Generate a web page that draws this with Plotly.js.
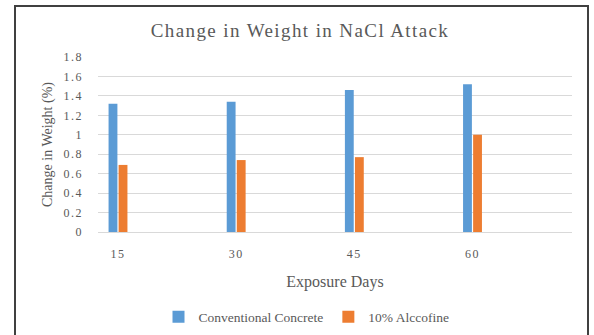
<!DOCTYPE html>
<html>
<head>
<meta charset="utf-8">
<script src="https://cdn.plot.ly/plotly-3.0.1.min.js"></script>
<style>
  html, body { margin: 0; padding: 0; background: #fff; }
  #chart { width: 594px; height: 335px; }
  #chart .xtick text, #chart .ytick text {
    letter-spacing: 1.5px;
    font-family: "Liberation Serif", "Times New Roman", serif !important;
  }
  #chart .gtitle { letter-spacing: 1.4px; }
</style>
</head>
<body>
<div id="chart"></div>
<script>
// Exposure period (days) and percentage change in weight after NaCl attack
const exposureDays = [15, 30, 45, 60];
const conventionalConcrete = [1.32, 1.34, 1.46, 1.52];
const alccofine10 = [0.69, 0.74, 0.77, 1.00];
const seriesNames = ['Conventional Concrete', '10% Alccofine'];
const yTicks = [0, 0.2, 0.4, 0.6, 0.8, 1, 1.2, 1.4, 1.6, 1.8];

const serif = '"Liberation Serif", "Times New Roman", serif';
const textGrey = '#595959';

const traces = [
  {
    type: 'bar',
    name: seriesNames[0],
    x: exposureDays,
    y: conventionalConcrete,
    marker: { color: '#5B9BD5' },
    hoverinfo: 'x+y+name'
  },
  {
    type: 'bar',
    name: seriesNames[1],
    x: exposureDays,
    y: alccofine10,
    marker: { color: '#ED7D31' },
    hoverinfo: 'x+y+name'
  }
];

const layout = {
  width: 594,
  height: 335,
  paper_bgcolor: '#ffffff',
  plot_bgcolor: '#ffffff',
  margin: { l: 98, r: 22, t: 57, b: 103 },
  barmode: 'group',
  bargap: 0.83,
  bargroupgap: 0.12,
  showlegend: true,
  font: { family: serif, color: textGrey, size: 12 },
  title: {
    text: 'Change in Weight in NaCl Attack',
    font: { family: serif, size: 19, color: textGrey },
    x: 0.505,
    xanchor: 'center',
    y: 0.91,
    yanchor: 'middle'
  },
  xaxis: {
    type: 'linear',
    range: [12.46, 72.63],
    tickvals: exposureDays,
    ticktext: exposureDays.map(String),
    showgrid: false,
    zeroline: false,
    showline: false,
    ticks: '',
    ticklabelstandoff: 13,
    tickfont: { family: serif, size: 12, color: textGrey },
    title: {
      text: 'Exposure Days',
      font: { family: serif, size: 16, color: textGrey },
      standoff: 15
    },
    automargin: false,
    fixedrange: true
  },
  yaxis: {
    range: [0, 1.8],
    tickvals: yTicks,
    ticktext: yTicks.map(String),
    showgrid: true,
    gridcolor: '#D9D9D9',
    gridwidth: 1,
    zeroline: true,
    zerolinecolor: '#D9D9D9',
    zerolinewidth: 1,
    showline: false,
    ticks: '',
    ticklabelstandoff: 14,
    tickfont: { family: serif, size: 12, color: textGrey },
    title: {
      text: 'Change in Weight (%)',
      font: { family: serif, size: 14, color: textGrey },
      standoff: 12
    },
    automargin: false,
    fixedrange: true
  },
  legend: {
    orientation: 'h',
    xref: 'container',
    yref: 'container',
    x: 0.516,
    xanchor: 'center',
    y: 0.054,
    yanchor: 'middle',
    font: { family: serif, size: 13.5, color: textGrey },
    itemwidth: 30,
    traceorder: 'normal',
    bgcolor: 'rgba(0,0,0,0)'
  },
  shapes: [
    {
      type: 'rect',
      xref: 'paper',
      yref: 'paper',
      x0: (15 - 98) / 474,
      x1: (588 - 98) / 474,
      y0: (232 - 345) / 175,
      y1: (232 - 6) / 175,
      line: { color: '#404040', width: 2 },
      fillcolor: 'rgba(0,0,0,0)',
      layer: 'above'
    }
  ]
};

Plotly.newPlot('chart', traces, layout, { displayModeBar: false, staticPlot: true });
</script>
</body>
</html>
